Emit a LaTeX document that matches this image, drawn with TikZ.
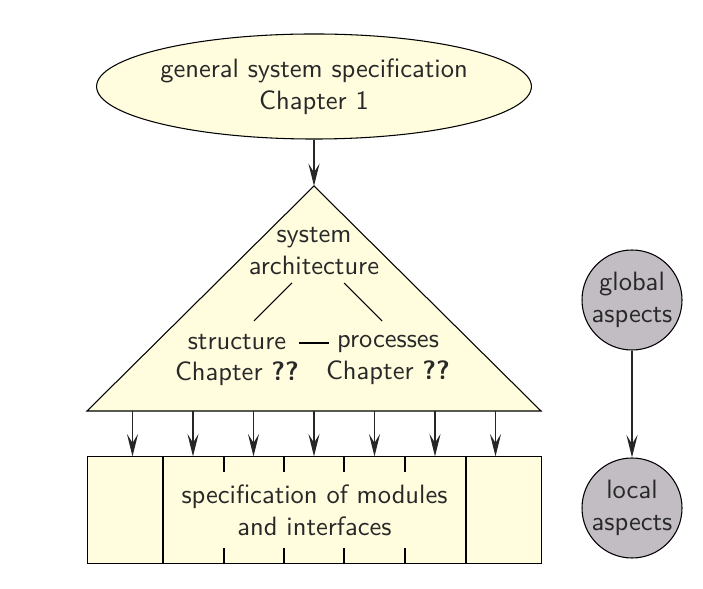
\documentclass[tikz,border=0pt]{standalone}
\usetikzlibrary{arrows.meta,shapes.geometric,positioning}

\definecolor{paper}{RGB}{255,253,222}
\definecolor{aspect}{RGB}{194,189,195}
\definecolor{ink}{RGB}{40,40,40}

\tikzset{
  every node/.style={font=\sffamily, text=ink, align=center},
  spec/.style={ellipse, draw, fill=paper, minimum width=148.5pt, minimum height=39.6pt, inner sep=0pt},
  modbox/.style={rectangle, draw, fill=paper, minimum width=171.5pt, minimum height=40pt, inner sep=0pt},
  aspectnode/.style={circle, draw, fill=aspect, minimum size=37.7pt, inner sep=0pt},
  flow/.style={-{Stealth[length=8.5pt,width=4.2pt,inset=3.4pt]}, black!85},
}

\begin{document}
\begin{tikzpicture}[x=0.377pt, y=-0.377pt]

  % Define geometry
  \def\cx{314}     % centre line
  \def\apex{186}   % tip of the triangle
  \def\base{411}   % base of the triangle
  \def\hw{227}     % half width of triangle and box
  \def\gap{60.5}   % distance between the arrows

  \useasboundingbox (0,0) rectangle (703,589);

  % General specification on top
  \node[spec] (general) at (\cx,86.5) {general system specification\\Chapter 1};

  % Architecture triangle
  \coordinate (tip) at (\cx,\apex);
  \filldraw[fill=paper] (tip) -- (\cx+\hw,\base) -- (\cx-\hw,\base) -- cycle;
  \draw[flow] (general) -- (tip);

  \node (arch)   at (\cx,251) {system\\architecture};
  \node (struct) at (237,360) {structure\\Chapter \textbf{??}};
  \node (proc)   at (388,360) {processes\\Chapter \textbf{??}};

  % Links inside the triangle
  \draw (292,283) -- (254,321);
  \draw (344,283) -- (382,321);
  \draw (299,343) -- (329,343);

  % Modules and interfaces
  \node[modbox] (modules) at (\cx+0.5,510) {specification of modules\\and interfaces};
  \draw (163,457) -- (163,563);
  \draw (466,457) -- (466,563);
  \foreach \x in {224,284,344,405} {
    \draw (\x,457) -- (\x,472);
    \draw (\x,548) -- (\x,563);
  }

  % Arrows from the triangle down to the modules
  \foreach \k in {-3,...,3} {
    \coordinate (top\k) at ({\cx+\k*\gap},\base);
    \draw[flow] (top\k) -- (top\k |- modules.north);
  }

  % Global and local aspects
  \node[aspectnode] (global) at (632,300) {global\\aspects};
  \node[aspectnode] (local)  at (632,508) {local\\aspects};
  \draw[flow] (global) -- (local);

\end{tikzpicture}
\end{document}
